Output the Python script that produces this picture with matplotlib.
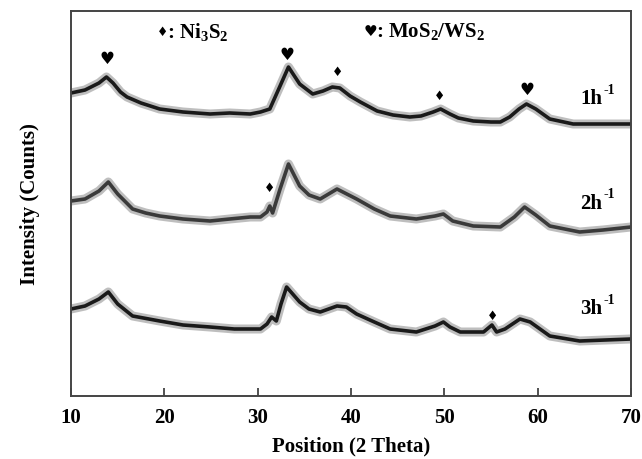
import matplotlib
matplotlib.use("Agg")
import matplotlib.pyplot as plt

plt.rcParams['font.family'] = ['Liberation Serif', 'DejaVu Sans']
plt.rcParams['font.weight'] = 'bold'
plt.rcParams['mathtext.fontset'] = 'custom'
plt.rcParams['mathtext.rm'] = 'Liberation Serif:bold'
plt.rcParams['mathtext.bf'] = 'Liberation Serif:bold'
plt.rcParams['mathtext.default'] = 'bf'

# 2-theta positions and intensities (arbitrary counts)
theta_1h = [10.0, 11.5, 13.0, 13.8, 14.5, 15.3, 16.0, 17.5, 19.5, 22.0, 24.9, 27.0, 29.2,
            30.3, 31.3, 32.4, 33.3, 34.5, 35.9, 37.0, 38.0, 38.8, 39.9, 41.0, 42.8,
            44.5, 46.3, 47.5, 48.8, 49.6, 50.6, 51.5, 53.1, 55.0, 56.0, 57.0, 58.0,
            58.8, 59.8, 61.3, 63.8, 67.0, 70.0]
ypx_1h = [94, 91, 84, 78, 84, 93, 98, 104, 110, 113, 115, 114, 115,
          113, 110, 87, 68, 85, 95, 92, 88, 89, 97, 103, 112,
          116, 118, 117, 113, 110, 115, 119, 122, 123, 123, 118, 110,
          105, 110, 120, 125, 125, 125]

theta_2h = [10.0, 11.5, 13.0, 14.0, 15.0, 16.6, 18.0, 19.5, 22.0, 24.9, 27.0, 29.2,
            30.3, 31.0, 31.3, 31.6, 32.4, 33.3, 34.5, 35.5, 36.7, 38.5, 40.6, 42.5,
            44.2, 47.0, 49.0, 49.9, 50.9, 53.1, 56.0, 57.5, 58.6, 59.8, 61.3, 64.5,
            67.0, 70.0]
ypx_2h = [202, 200, 192, 183, 195, 210, 214, 217, 220, 222, 220, 218,
          218, 213, 207, 214, 190, 165, 187, 196, 200, 190, 200, 210,
          217, 220, 217, 215, 222, 227, 228, 218, 208, 216, 227, 233,
          231, 228]

theta_3h = [10.0, 11.5, 13.0, 14.0, 15.0, 16.6, 19.5, 22.0, 24.9, 27.5, 30.3, 31.0,
            31.5, 32.0, 32.5, 33.1, 34.5, 35.5, 36.7, 38.5, 39.5, 40.6, 42.5, 44.2,
            47.0, 49.0, 49.9, 50.6, 51.7, 54.2, 55.1, 55.6, 56.5, 58.1, 59.2, 61.3,
            64.5, 70.0]
ypx_3h = [310, 307, 300, 293, 305, 317, 322, 326, 328, 330, 330, 325,
          318, 322, 305, 288, 303, 310, 313, 307, 308, 315, 323, 330,
          333, 327, 323, 328, 333, 333, 326, 333, 330, 320, 323, 337,
          342, 340]

BASE = 397
int_1h = [BASE - v for v in ypx_1h]
int_2h = [BASE - v for v in ypx_2h]
int_3h = [BASE - v for v in ypx_3h]

series_labels = ['1h', '2h', '3h']
label_y = [302, 197, 92]

heart_pos = [(13.9, 338), (33.1, 342), (58.8, 307)]
diamond_pos = [(38.6, 324), (49.5, 300), (31.3, 208), (55.2, 81)]

xticks = [10, 20, 30, 40, 50, 60, 70]

fig = plt.figure(figsize=(6.42, 4.60), dpi=100)
ax = fig.add_axes([71/642, 1 - 397/460, 560/642, 385/460])

for th, it, col in [(theta_1h, int_1h, '#1a1a1a'),
                    (theta_2h, int_2h, '#3a3a3a'),
                    (theta_3h, int_3h, '#1a1a1a')]:
    ax.plot(th, it, color='#8a8a8a', lw=6.5, alpha=0.55, solid_joinstyle='round')
    ax.plot(th, it, color=col, lw=2.6, solid_joinstyle='round')

for lab, yy in zip(series_labels, label_y):
    ax.text(64.6, yy - 4, lab, fontsize=15, fontweight='bold', ha='left', va='center')
    ax.text(67.0, yy + 5, '-1', fontsize=10, fontweight='bold', ha='left', va='center')

for x, y in heart_pos:
    ax.text(x, y, '\u2665', fontsize=12, family='DejaVu Sans', ha='center', va='center')
for x, y in diamond_pos:
    ax.text(x, y, '\u2666', fontsize=9, family='DejaVu Sans', ha='center', va='center')

ax.text(19.2, 365, '\u2666', fontsize=9, family='DejaVu Sans', ha='left', va='center')
ax.text(20.3, 365, ': Ni$_3$S$_2$', fontsize=15, fontweight='bold', ha='left', va='center')
ax.text(41.3, 365, '\u2665', fontsize=11, family='DejaVu Sans', ha='left', va='center')
ax.text(42.7, 365, ': MoS$_2$/WS$_2$', fontsize=15, fontweight='bold', ha='left', va='center')

ax.set_xlim(10, 70)
ax.set_ylim(0, 385)
ax.set_xticks(xticks)
ax.set_xticklabels([str(t) for t in xticks], fontsize=15, fontweight='bold')
ax.set_yticks([])
ax.tick_params(axis='x', direction='in', length=6, width=1.2, pad=8, color='#333333')
for s in ax.spines.values():
    s.set_linewidth(1.4)
    s.set_color('#444444')

ax.set_xlabel('Position (2 Theta)', fontsize=15, fontweight='bold', labelpad=6)
ax.set_ylabel('Intensity (Counts)', fontsize=15, fontweight='bold', labelpad=22)

fig.savefig('out.png', dpi=100)
